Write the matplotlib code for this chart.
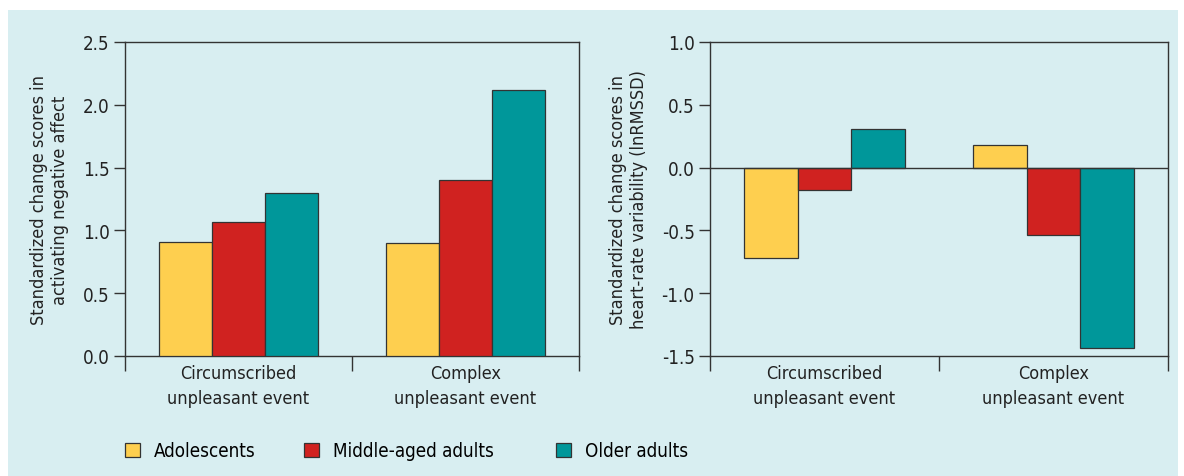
import matplotlib

matplotlib.use('Agg')
import matplotlib.pyplot as plt
import matplotlib.patches as mpc
import numpy as np

plt.rcParams['font.family'] = ['DejaVu Sans']
plt.rcParams['font.stretch'] = 'condensed'

events = ["Circumscribed\nunpleasant event", "Complex\nunpleasant event"]
groups = ["Adolescents", "Middle-aged adults", "Older adults"]
colors = ['#fecf4f', '#d02220', '#00979a']

# activating negative affect
affect = {
    "Adolescents": [0.91, 0.90],
    "Middle-aged adults": [1.07, 1.40],
    "Older adults": [1.30, 2.12],
}
# heart-rate variability (lnRMSSD)
hrv = {
    "Adolescents": [-0.72, 0.18],
    "Middle-aged adults": [-0.18, -0.54],
    "Older adults": [0.31, -1.44],
}

fig = plt.figure(figsize=(11.84, 4.77), dpi=100)
fig.patches.append(mpc.Rectangle((8 / 1184, 0), 1170 / 1184, 1 - 11 / 477,
                                 transform=fig.transFigure, facecolor='#d8eef1',
                                 edgecolor='none', zorder=-10))

ax1 = fig.add_axes([125 / 1184, 1 - 357 / 477, 454 / 1184, 314 / 477])
ax2 = fig.add_axes([710 / 1184, 1 - 357 / 477, 458 / 1184, 314 / 477])

centers = np.array([0.5, 1.5])
w = 0.7 / 3


def draw(ax, data, ylim, yticks, ylabel):
    ax.set_facecolor('none')
    for i, g in enumerate(groups):
        ax.bar(centers + (i - 1) * w, data[g], width=w, color=colors[i],
               edgecolor='#333333', linewidth=0.9, label=g, zorder=3)
    ax.set_xlim(0, 2)
    ax.set_ylim(*ylim)
    ax.set_yticks(yticks)
    ax.set_yticklabels(["%.1f" % t for t in yticks])
    ax.set_xticks([0, 1, 2])
    ax.set_xticklabels([])
    ax.set_xticks(centers, minor=True)
    ax.set_xticklabels(events, minor=True, fontsize=13, color='#222222', linespacing=1.45)
    ax.tick_params(axis='x', which='major', length=11, width=1, color='#333333')
    ax.tick_params(axis='x', which='minor', length=0, pad=6)
    ax.tick_params(axis='y', length=8, width=1, color='#333333', labelsize=13.5,
                   labelcolor='#222222', pad=3)
    for s in ax.spines.values():
        s.set_color('#333333')
        s.set_linewidth(1)
    ax.set_ylabel(ylabel, fontsize=13, color='#222222', labelpad=10)


draw(ax1, affect, (0, 2.5), [0.0, 0.5, 1.0, 1.5, 2.0, 2.5],
     "Standardized change scores in\nactivating negative affect")
draw(ax2, hrv, (-1.5, 1.0), [-1.5, -1.0, -0.5, 0.0, 0.5, 1.0],
     "Standardized change scores in\nheart-rate variability (lnRMSSD)")
ax2.axhline(0, color='#333333', linewidth=1, zorder=4)

# legend entries sit at fixed positions along the bottom
handles, labels = ax1.get_legend_handles_labels()
for h, l, x in zip(handles, labels, [108, 287, 539]):
    fig.legend([h], [l], loc='center left', bbox_to_anchor=(x / 1184, 1 - 452 / 477),
               frameon=False, fontsize=13.5, handlelength=0.8, handleheight=0.8,
               handletextpad=0.75)

plt.savefig('out.png', dpi=100)
